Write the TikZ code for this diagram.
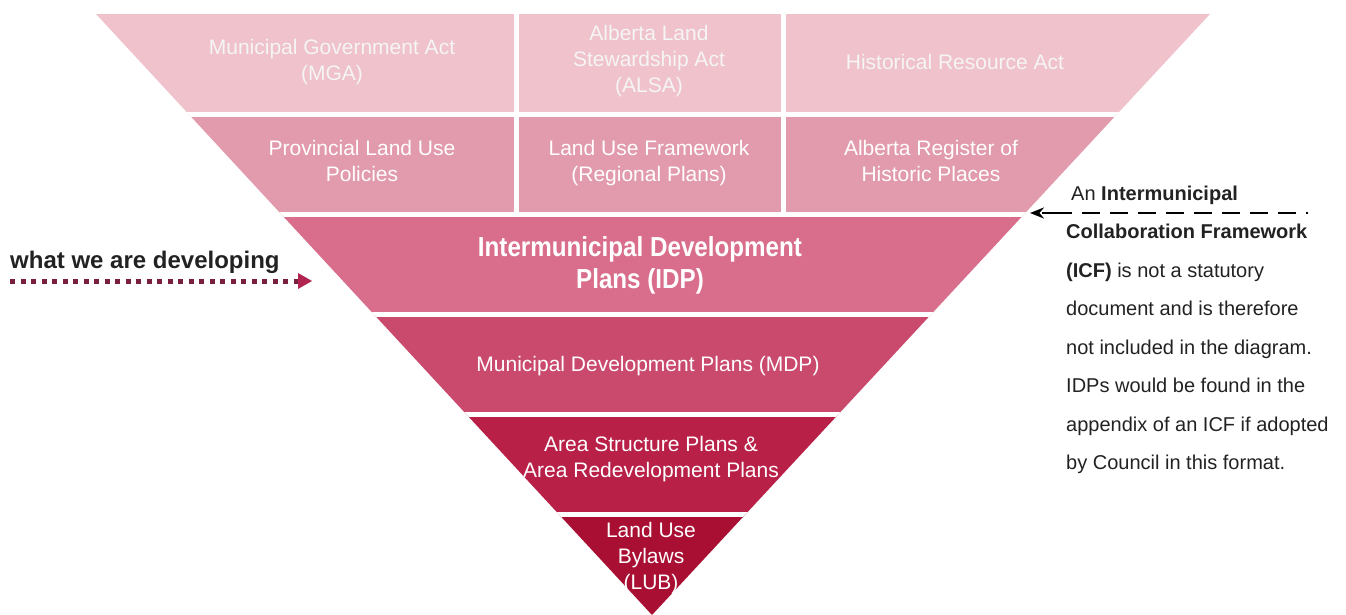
\documentclass[tikz,border=0pt]{standalone}
\usepackage{fontspec}
\setmainfont{Liberation Sans}
\newfontfamily\condfont[FakeStretch=0.88]{Liberation Sans}
\usetikzlibrary{arrows.meta}
\definecolor{bandA}{HTML}{EFC2CC}
\definecolor{bandB}{HTML}{E29AAD}
\definecolor{bandC}{HTML}{D86E8C}
\definecolor{bandD}{HTML}{CA4A6E}
\definecolor{bandE}{HTML}{B82048}
\definecolor{bandF}{HTML}{A80F32}
\definecolor{dotred}{HTML}{7A1F3D}
\definecolor{tipred}{HTML}{B0244F}
\definecolor{notegray}{HTML}{222222}
\begin{document}
\begin{tikzpicture}[x=1pt,y=-1pt,
  lbl/.style={text=white, align=center, font=\fontsize{21}{26}\selectfont, inner sep=0pt},
  faintlbl/.style={lbl, text=white!92!gray},
  idplbl/.style={text=white, align=center, font=\condfont\bfseries\fontsize{27.5}{32}\selectfont, inner sep=0pt},
  noteline/.style={text=notegray, anchor=base west, font=\fontsize{20}{24}\selectfont, inner sep=0pt},
  gap/.style={white, line width=5pt}]
\useasboundingbox (0,0) rectangle (1346,615);
\begin{scope}
  \clip (96,14) -- (1210,14) -- (652,615) -- cycle;
  \fill[bandA] (0,14) rectangle (1346,114.2);
  \fill[bandB] (0,114.2) rectangle (1346,214.3);
  \fill[bandC] (0,214.3) rectangle (1346,314.5);
  \fill[bandD] (0,314.5) rectangle (1346,414.7);
  \fill[bandE] (0,414.7) rectangle (1346,514.8);
  \fill[bandF] (0,514.8) rectangle (1346,616);
  \draw[gap] (0,114.2) -- (1346,114.2);
  \draw[gap] (0,214.3) -- (1346,214.3);
  \draw[gap] (0,314.5) -- (1346,314.5);
  \draw[gap] (0,414.7) -- (1346,414.7);
  \draw[gap] (0,514.8) -- (1346,514.8);
  \draw[gap] (516,0) -- (516,214.3);
  \draw[gap] (783.5,0) -- (783.5,214.3);
\end{scope}
% row 1
\node[faintlbl] (mga) at (332,62) {Municipal Government Act\\(MGA)};
\node[faintlbl] (alsa) at (649,61) {Alberta Land\\Stewardship Act\\(ALSA)};
\node[faintlbl] (hra) at (955,62) {Historical Resource Act};
% row 2
\node[lbl] (plup) at (362,161) {Provincial Land Use\\Policies};
\node[lbl] (luf) at (649,163) {Land Use Framework\\(Regional Plans)};
\node[lbl] (arhp) at (931,161) {Alberta Register of\\Historic Places};
% lower bands
\node[idplbl] (idp) at (640,265) {Intermunicipal Development\\Plans (IDP)};
\node[lbl] (mdp) at (648,366) {Municipal Development Plans (MDP)};
\node[lbl] (asp) at (651,459) {Area Structure Plans \&\\Area Redevelopment Plans};
\node[lbl] (lub) at (651,558) {Land Use\\Bylaws\\(LUB)};
% left annotation
\node[text=notegray, anchor=base west, inner sep=0pt, font=\bfseries\fontsize{24}{28}\selectfont] (wwad) at (10,268) {what we are developing};
\coordinate (dotstart) at (10,281);
\coordinate (dotend) at (298,281);
\draw[dotred, line width=5pt, dash pattern=on 5pt off 5.5pt] (dotstart) -- (dotend);
\fill[tipred] (dotend) ++(0,-8) -- ++(14,8) -- ++(-14,8) -- cycle;
% right annotation
\coordinate (icfstart) at (1308,213);
\coordinate (icftip) at (1030,213);
\draw[black, line width=2.3pt, dash pattern=on 2pt off 10pt on 18pt off 10pt on 18pt off 10pt on 18pt off 10pt on 18pt off 10pt on 18pt off 10pt on 18pt off 10pt on 18pt off 10pt on 18pt off 10pt on 30pt off 10pt, -{Stealth[length=14pt,width=11pt]}] (icfstart) -- (icftip);
\node[noteline] (n1) at (1071,200) {An \textbf{Intermunicipal}};
\node[noteline] (n2) at (1066,238.5) {\textbf{Collaboration Framework}};
\node[noteline] (n3) at (1066,277) {\textbf{(ICF)} is not a statutory};
\node[noteline] (n4) at (1066,315.5) {document and is therefore};
\node[noteline] (n5) at (1066,354) {not included in the diagram.};
\node[noteline] (n6) at (1066,392.5) {IDPs would be found in the};
\node[noteline] (n7) at (1066,431) {appendix of an ICF if adopted};
\node[noteline] (n8) at (1066,469.5) {by Council in this format.};
\end{tikzpicture}
\end{document}
